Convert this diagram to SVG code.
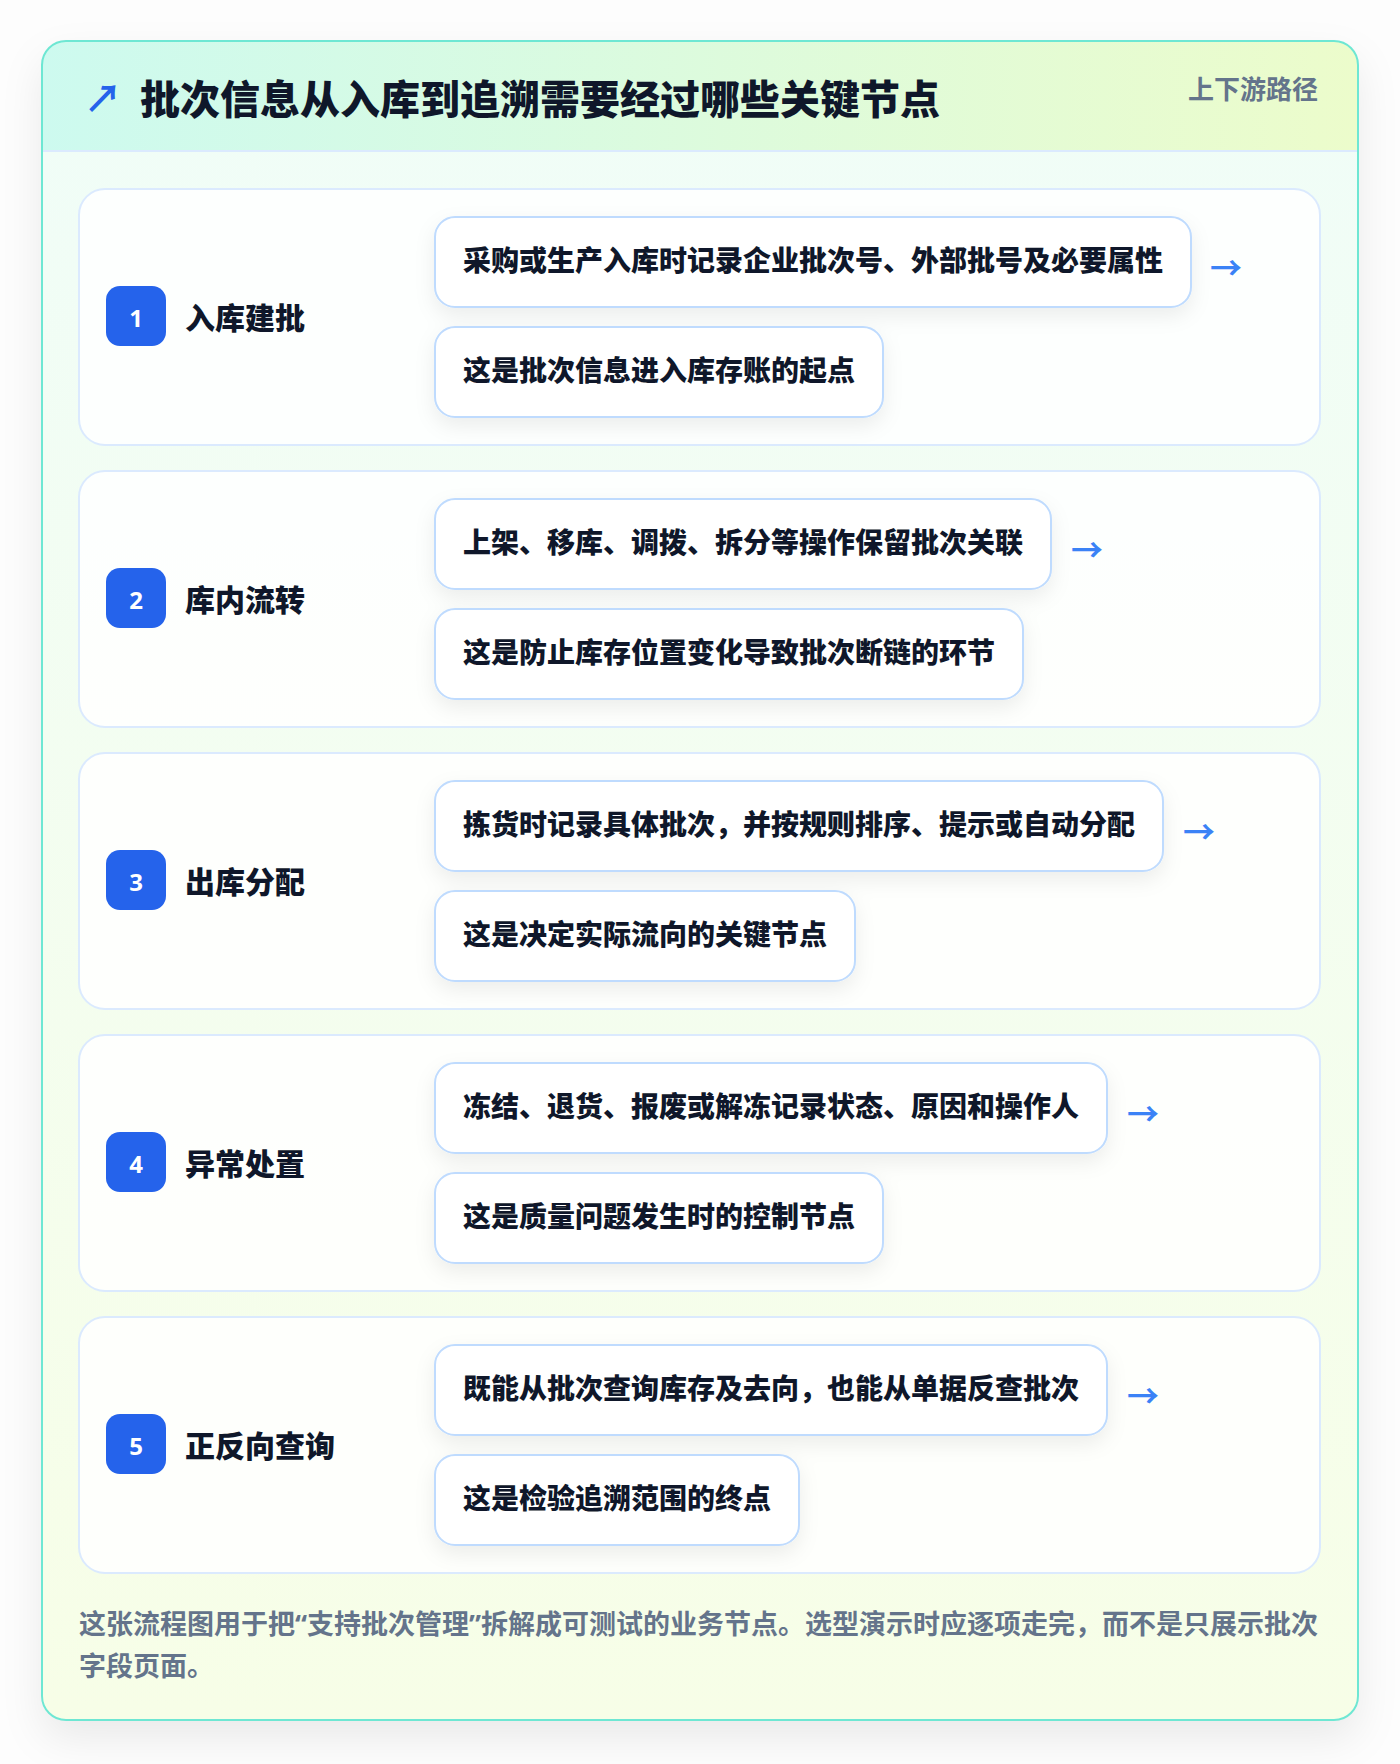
<svg xmlns="http://www.w3.org/2000/svg" width="1400" height="1764" viewBox="0 0 1400 1764">
<defs>
<linearGradient id="hdr" x1="0" y1="0" x2="1" y2="0"><stop offset="0" stop-color="#cdfaef"/><stop offset="1" stop-color="#ecfccb"/></linearGradient>
<linearGradient id="bodyg" x1="0" y1="0" x2="0" y2="1"><stop offset="0" stop-color="#f0fdf8"/><stop offset="1" stop-color="#f7fee7"/></linearGradient>
<filter id="cardShadow" x="-10%" y="-10%" width="120%" height="120%"><feDropShadow dx="0" dy="18" stdDeviation="20" flood-color="#0f172a" flood-opacity="0.08"/></filter>
<filter id="boxShadow" x="-10%" y="-30%" width="120%" height="180%"><feDropShadow dx="0" dy="8" stdDeviation="10" flood-color="#0f172a" flood-opacity="0.07"/></filter>
<clipPath id="cardClip"><rect x="42" y="41" width="1316" height="1679" rx="24"/></clipPath>
<style>
.cjk{font-family:"Noto Sans CJK SC","Noto Sans",sans-serif;}
.title{font-size:40px;font-weight:800;fill:#0f172a;}
.tag{font-size:26px;font-weight:700;fill:#64748b;}
.stage{fill:#ffffff;fill-opacity:0.85;stroke:#dbeafe;stroke-width:2;}
.badge{fill:#2563eb;}
.num{font-family:"Noto Sans","Liberation Sans",sans-serif;font-size:24px;font-weight:700;fill:#ffffff;text-anchor:middle;}
.stitle{font-size:30px;font-weight:800;fill:#0f172a;}
.box{fill:#ffffff;stroke:#bfdbfe;stroke-width:2;}
.btxt{font-size:28px;font-weight:800;fill:#0f172a;}
.arr{font-size:32px;font-weight:700;fill:#3b82f6;}
.foot{font-family:"Noto Sans","Noto Sans CJK SC",sans-serif;font-size:27px;font-weight:700;fill:#64748b;}
</style>
</defs>
<rect x="0" y="0" width="1400" height="1764" fill="#fdfdfd"/>
<g id="card">
<rect x="42" y="41" width="1316" height="1679" rx="24" fill="url(#bodyg)" filter="url(#cardShadow)"/>
<g clip-path="url(#cardClip)">
<rect x="42" y="41" width="1316" height="110" fill="url(#hdr)"/>
<line x1="42" y1="151" x2="1358" y2="151" stroke="#dbeafe" stroke-width="2"/>
</g>
<rect x="42" y="41" width="1316" height="1679" rx="24" fill="none" stroke="#6ee7d3" stroke-width="2"/>
</g>
<g id="header">
<text class="cjk" x="84" y="112" font-size="38" font-weight="700" fill="#2563eb">↗</text>
<text class="cjk title" x="140" y="114">批次信息从入库到追溯需要经过哪些关键节点</text>
<text class="cjk tag" x="1318" y="99" text-anchor="end">上下游路径</text>
</g>
<g id="stage1">
<rect class="stage" x="79" y="189" width="1241" height="256" rx="26"/>
<rect class="badge" x="106" y="286" width="60" height="60" rx="14"/>
<text class="num" x="136" y="327">1</text>
<text class="cjk stitle" x="185" y="329">入库建批</text>
<g filter="url(#boxShadow)"><rect class="box" x="435" y="217" width="756" height="90" rx="20"/><rect class="box" x="435" y="327" width="448" height="90" rx="20"/></g>
<text class="cjk btxt" x="463" y="271">采购或生产入库时记录企业批次号、外部批号及必要属性</text>
<text class="cjk btxt" x="463" y="381">这是批次信息进入库存账的起点</text>
</g>
<g id="stage2">
<rect class="stage" x="79" y="471" width="1241" height="256" rx="26"/>
<rect class="badge" x="106" y="568" width="60" height="60" rx="14"/>
<text class="num" x="136" y="609">2</text>
<text class="cjk stitle" x="185" y="611">库内流转</text>
<g filter="url(#boxShadow)"><rect class="box" x="435" y="499" width="616" height="90" rx="20"/><rect class="box" x="435" y="609" width="588" height="90" rx="20"/></g>
<text class="cjk btxt" x="463" y="553">上架、移库、调拨、拆分等操作保留批次关联</text>
<text class="cjk btxt" x="463" y="663">这是防止库存位置变化导致批次断链的环节</text>
</g>
<g id="stage3">
<rect class="stage" x="79" y="753" width="1241" height="256" rx="26"/>
<rect class="badge" x="106" y="850" width="60" height="60" rx="14"/>
<text class="num" x="136" y="891">3</text>
<text class="cjk stitle" x="185" y="893">出库分配</text>
<g filter="url(#boxShadow)"><rect class="box" x="435" y="781" width="728" height="90" rx="20"/><rect class="box" x="435" y="891" width="420" height="90" rx="20"/></g>
<text class="cjk btxt" x="463" y="835">拣货时记录具体批次，并按规则排序、提示或自动分配</text>
<text class="cjk btxt" x="463" y="945">这是决定实际流向的关键节点</text>
</g>
<g id="stage4">
<rect class="stage" x="79" y="1035" width="1241" height="256" rx="26"/>
<rect class="badge" x="106" y="1132" width="60" height="60" rx="14"/>
<text class="num" x="136" y="1173">4</text>
<text class="cjk stitle" x="185" y="1175">异常处置</text>
<g filter="url(#boxShadow)"><rect class="box" x="435" y="1063" width="672" height="90" rx="20"/><rect class="box" x="435" y="1173" width="448" height="90" rx="20"/></g>
<text class="cjk btxt" x="463" y="1117">冻结、退货、报废或解冻记录状态、原因和操作人</text>
<text class="cjk btxt" x="463" y="1227">这是质量问题发生时的控制节点</text>
</g>
<g id="stage5">
<rect class="stage" x="79" y="1317" width="1241" height="256" rx="26"/>
<rect class="badge" x="106" y="1414" width="60" height="60" rx="14"/>
<text class="num" x="136" y="1455">5</text>
<text class="cjk stitle" x="185" y="1457">正反向查询</text>
<g filter="url(#boxShadow)"><rect class="box" x="435" y="1345" width="672" height="90" rx="20"/><rect class="box" x="435" y="1455" width="364" height="90" rx="20"/></g>
<text class="cjk btxt" x="463" y="1399">既能从批次查询库存及去向，也能从单据反查批次</text>
<text class="cjk btxt" x="463" y="1509">这是检验追溯范围的终点</text>
</g>
<g id="connectors">
<text class="cjk arr" x="1210" y="280">→</text>
<text class="cjk arr" x="1071" y="562">→</text>
<text class="cjk arr" x="1183" y="844">→</text>
<text class="cjk arr" x="1127" y="1126">→</text>
<text class="cjk arr" x="1127" y="1408">→</text>
</g>
<g id="footer">
<text class="foot" x="79" y="1634">这张流程图用于把“支持批次管理”拆解成可测试的业务节点。选型演示时应逐项走完，而不是只展示批次</text>
<text class="foot" x="79" y="1676">字段页面。</text>
</g>
</svg>
